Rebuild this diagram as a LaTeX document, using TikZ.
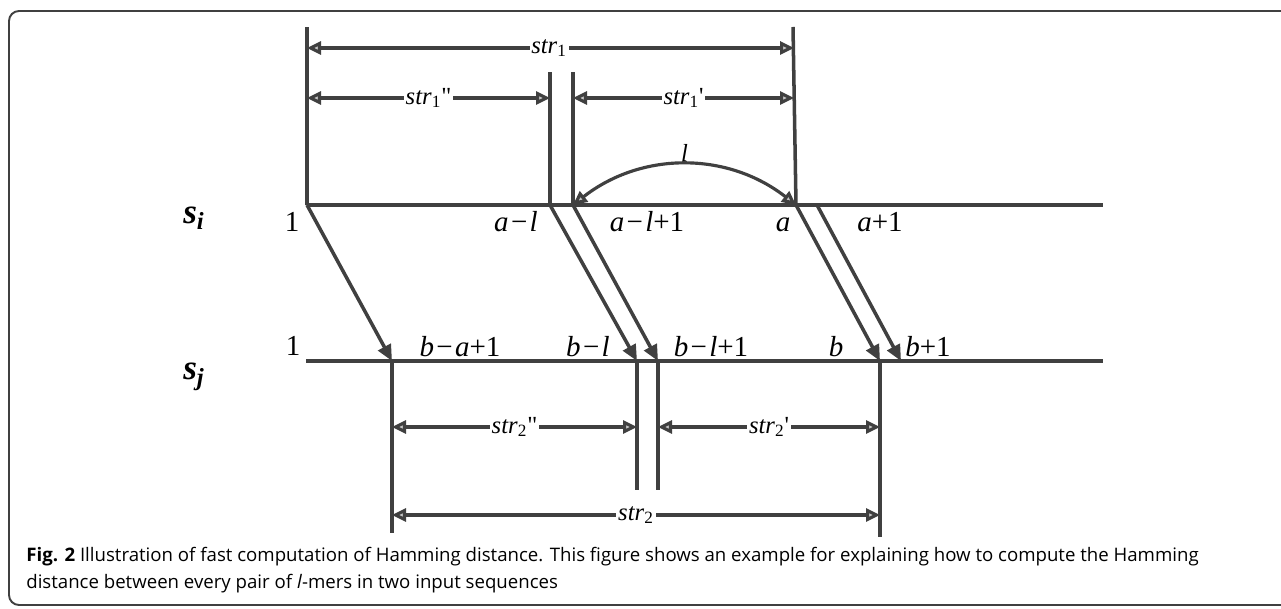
\documentclass[tikz,border=0pt]{standalone}
\usepackage{fontspec}
\setmainfont{Liberation Serif}
\newfontfamily\capfont{Open Sans}
\usetikzlibrary{arrows.meta}
\definecolor{ink}{HTML}{404040}
\newcommand\mn{\hspace{.08em}−\hspace{.08em}}

\begin{document}
\begin{tikzpicture}[x=0.2mm, y=-0.2mm,
    seq/.style={draw=ink, line width=2pt},
    bar/.style={draw=ink, line width=2pt},
    dim/.style={draw=ink, line width=1.8pt,
      {Triangle[fill=gray!45,length=2.8mm,width=2.6mm]}-{Triangle[fill=gray!45,length=2.8mm,width=2.6mm]}},
    map/.style={draw=ink, line width=2pt, -{Triangle[length=3.2mm,width=2.8mm]}},
    poslabel/.style={font=\fontsize{16.5}{18}\selectfont, inner sep=0pt, anchor=base},
    lenlabel/.style={font=\fontsize{14}{16}\selectfont, fill=white, inner sep=1pt},
    seqname/.style={font=\fontsize{20}{22}\selectfont\bfseries\itshape, inner sep=0pt, anchor=base}]
  \clip (0,0) rectangle (1281,609);
  \draw[ink, line width=1.1pt, rounded corners=2mm] (1300,11) -- (9,11) -- (9,605) -- (1300,605);

  % positions on s_i and s_j
  \coordinate (i1) at (307,205);   \coordinate (ial) at (550,205);
  \coordinate (ial1) at (573,205); \coordinate (ia) at (796,205);
  \coordinate (ia1) at (817,205);  \coordinate (iend) at (1103,205);
  \coordinate (j1) at (306,361);   \coordinate (jba) at (392,361);
  \coordinate (jbl) at (637,361);  \coordinate (jbl1) at (658,361);
  \coordinate (jb) at (880,361);   \coordinate (jb1) at (901,361);
  \coordinate (jend) at (1103,361);
  \coordinate (u1) at (307,27);    \coordinate (u2) at (550,72);
  \coordinate (u3) at (573,72);    \coordinate (u4) at (793,27);

  \draw[seq] (i1) -- (iend);
  \draw[seq] (j1) -- (jend);
  \node[seqname] (si) at (194,224) {s\textsubscript{i}};
  \node[seqname] (sj) at (194,380) {s\textsubscript{j}};

  % upper ticks and lengths
  \draw[bar] (i1) -- (u1); \draw[bar] (ial) -- (u2);
  \draw[bar] (ial1) -- (u3); \draw[bar] (ia) -- (u4);
  \draw[dim] (307,48) -- (794,48) node[lenlabel, pos=0.497] (str1) {\textit{str}\textsubscript{1}};
  \draw[dim] (307,98) -- (550,98) node[lenlabel, midway] (str1b) {\textit{str}\textsubscript{1}\textquotedbl};
  \draw[dim] (573,98) -- (794,98) node[lenlabel, midway] (str1a) {\textit{str}\textsubscript{1}\textquotesingle};
  \draw[dim] (ial1) to[bend left=38] node[above, font=\fontsize{14}{16}\selectfont\itshape, inner sep=1pt] (len) {l} (ia);

  % mapping s_i to s_j
  \draw[map] (i1) -- (jba);
  \draw[map] (ial) -- (jbl);
  \draw[map] (ial1) -- (jbl1);
  \draw[map] (ia) -- (jb);
  \draw[map] (ia1) -- (jb1);

  % lower ticks and lengths
  \draw[bar] (jba) -- ++(0,172); \draw[bar] (jbl) -- ++(0,129);
  \draw[bar] (jbl1) -- ++(0,129); \draw[bar] (jb) -- ++(0,176);
  \draw[dim] (392,427) -- (637,427) node[lenlabel, midway] (str2b) {\textit{str}\textsubscript{2}\textquotedbl};
  \draw[dim] (658,427) -- (880,427) node[lenlabel, midway] (str2a) {\textit{str}\textsubscript{2}\textquotesingle};
  \draw[dim] (392,515) -- (880,515) node[lenlabel, midway] (str2) {\textit{str}\textsubscript{2}};

  % position labels
  \node[poslabel] (p1) at (292,232) {1};
  \node[poslabel] (pal) at (516,232) {\textit{a}\mn\textit{l}};
  \node[poslabel] (pal1) at (647,232) {\textit{a}\mn\textit{l}+1};
  \node[poslabel] (pa) at (783,232) {\textit{a}};
  \node[poslabel] (pa1) at (880,232) {\textit{a}+1};
  \node[poslabel] (q1) at (293,356) {1};
  \node[poslabel] (qba) at (460,357) {\textit{b}\mn\textit{a}+1};
  \node[poslabel] (qbl) at (588,357) {\textit{b}\mn\textit{l}};
  \node[poslabel] (qbl1) at (711,357) {\textit{b}\mn\textit{l}+1};
  \node[poslabel] (qb) at (836,357) {\textit{b}};
  \node[poslabel] (qb1) at (928,357) {\textit{b}+1};

  \node[anchor=north west, align=left, inner sep=0pt, font=\capfont\fontsize{10.6}{15.5}\selectfont] (cap) at (26,547)
    {\textbf{Fig. 2} Illustration of fast computation of Hamming distance. This figure shows an example for explaining how to compute the Hamming\\
     distance between every pair of \textit{l}-mers in two input sequences};
\end{tikzpicture}
\end{document}
